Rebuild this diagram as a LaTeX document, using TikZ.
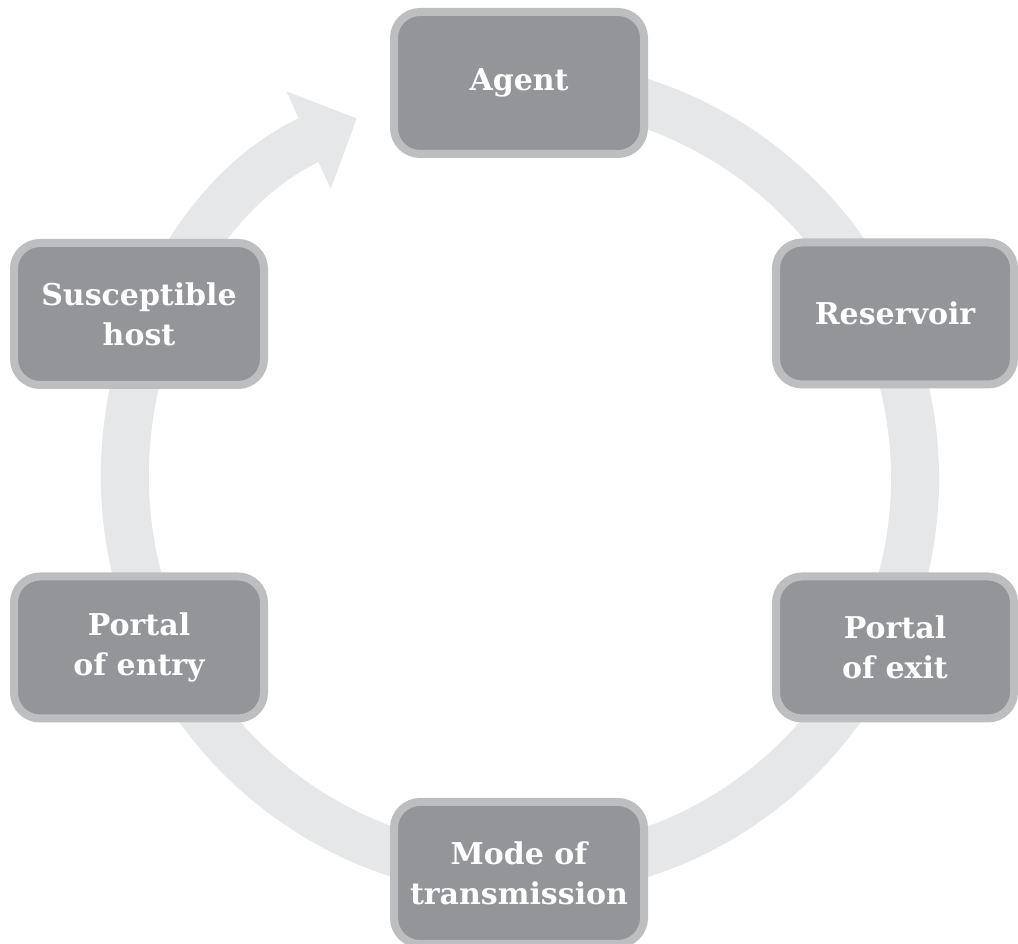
\documentclass[tikz,border=0pt]{standalone}
\usepackage{fontspec}
\setmainfont{DejaVu Serif}
\usetikzlibrary{arrows.meta}

\definecolor{ringgray}{HTML}{E6E7E8}
\definecolor{boxgray}{HTML}{939598}
\definecolor{edgegray}{HTML}{BCBEC0}

\begin{document}
\begin{tikzpicture}[x=1pt,y=1pt,>={Triangle[length=53pt,width=104pt]},
                    font=\fontsize{30}{40}\selectfont\bfseries]
  \tikzstyle{stage}=[rectangle,rounded corners=26pt,fill=boxgray,draw=edgegray,
                     line width=8pt,text=white,align=center,
                     minimum width=250pt,minimum height=142pt]
  \tikzstyle{cycle}=[->,ringgray,line width=48pt]

  \useasboundingbox (0,0) rectangle (1018,944);
  \coordinate (O) at (520,466);

  % the grey ring, running clockwise back into the agent
  \draw[cycle] (O) ++(100:395) arc[start angle=100,end angle=-245.6,radius=395];

  \node[stage] 						(agent)     at (519,861)   {Agent};
  \node[stage,minimum width=238pt]  (reservoir) at (895,630.5) {Reservoir};
  \node[stage,minimum width=238pt]  (exit)      at (895,296.5) {Portal\\of exit};
  \node[stage]         				(mode)      at (519,71)    {Mode of\\transmission};
  \node[stage]         				(entry)     at (139,296.5) {Portal\\of entry};
  \node[stage]         				(host)      at (139,630)   {Susceptible\\host};
\end{tikzpicture}
\end{document}
